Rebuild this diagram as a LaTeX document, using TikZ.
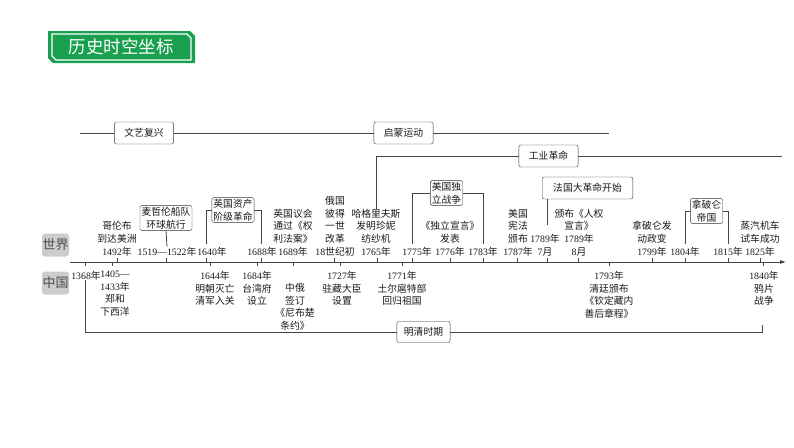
\documentclass[tikz,border=0pt]{standalone}
\usepackage{fontspec}
\setmainfont{Noto Sans CJK SC}
\newfontfamily\numfont{Liberation Serif}
\usetikzlibrary{arrows.meta}
\definecolor{titlegreen}{RGB}{24,160,78}
\definecolor{tabgray}{RGB}{204,204,204}
\definecolor{inkgray}{RGB}{70,70,70}
\newcommand{\yr}[1]{{\numfont #1}年}

\begin{document}
\begin{tikzpicture}[x=1pt,y=-1pt,
  every node/.style={font=\fontsize{9.8}{12.6}\selectfont,text=black!90},
  erabox/.style={draw=black!80,rounded corners=2pt,fill=white,minimum height=22pt,inner xsep=10pt},
  eventbox/.style={draw=black!80,rounded corners=1.5pt,fill=white,align=center,inner sep=1.5pt},
  worldnote/.style={align=center,anchor=south,inner sep=0pt},
  chinanote/.style={align=center,anchor=north,inner sep=0pt},
  areatab/.style={fill=tabgray,rounded corners=3pt,minimum width=27pt,minimum height=23pt,inner sep=0pt,font=\fontsize{13}{13}\selectfont,text=black!70},
  conn/.style={draw=inkgray,line width=0.8pt}]
  \useasboundingbox (0,0) rectangle (794,447);

  \fill[titlegreen] (48,31) -- (190,31) -- (195,36) -- (195,63) -- (53,63) -- (48,58) -- cycle;
  \draw[white,line width=1.2pt] (52,34) -- (187,34) -- (191,38) -- (191,60) -- (56,60) -- (52,56) -- cycle;
  \node[text=white,font=\fontsize{17.5}{17.5}\selectfont] (title) at (121,47) {历史时空坐标};

  \node[erabox] (renaissance) at (144,133) {文艺复兴};
  \node[erabox] (enlight) at (403.5,133) {启蒙运动};
  \coordinate (renStart) at (80,133);
  \coordinate (enlEnd) at (609,133);
  \draw[conn] (renStart) -- (renaissance) -- (enlight) -- (enlEnd);

  \node[areatab] (world) at (55.5,245) {世界};
  \node[areatab] (china) at (55.5,283) {中国};

  \coordinate (axisL) at (70,262);
  \coordinate (axisR) at (786,262);
  \draw[conn,-{Latex[length=6pt,width=4pt]}] (axisL) -- (axisR);
  \foreach \x in {117,166,206,261,334,377,412,450,483,517,547,578,652,685,728,760}
    \draw[conn] (\x,262) -- ++(0,-4);
  \foreach \x in {85,112,210,257,293,340,402,609,763}
    \draw[conn] (\x,262) -- ++(0,4);

  \node[worldnote] (w1492) at (117,256) {哥伦布\\到达美洲\\\yr{1492}};
  \node[worldnote] (w1519) at (167,256) {{\numfont 1519—1522}年};
  \node[worldnote] (w1640) at (212,256) {\yr{1640}};
  \node[worldnote] (w1688) at (262,256) {\yr{1688}};
  \node[worldnote] (w1689) at (293,256) {英国议会\\通过《权\\利法案》\\\yr{1689}};
  \node[worldnote] (w1700) at (335,256) {俄国\\彼得\\一世\\改革\\{\numfont 18}世纪初};
  \node[worldnote] (w1765) at (376,256) {哈格里夫斯\\发明珍妮\\纺纱机\\\yr{1765}};
  \node[worldnote] (w1775) at (417,256) {\yr{1775}};
  \node[worldnote] (w1776) at (450,256) {《独立宣言》\\发表\\\yr{1776}};
  \node[worldnote] (w1783) at (483,256) {\yr{1783}};
  \node[worldnote] (w1787) at (518,256) {美国\\宪法\\颁布\\\yr{1787}};
  \node[worldnote] (w17897) at (545,256) {\yr{1789}\\{\numfont 7}月};
  \node[worldnote] (w17898) at (579,256) {颁布《人权\\宣言》\\\yr{1789}\\{\numfont 8}月};
  \node[worldnote] (w1799) at (652,256) {拿破仑发\\动政变\\\yr{1799}};
  \node[worldnote] (w1804) at (685,256) {\yr{1804}};
  \node[worldnote] (w1815) at (728,256) {\yr{1815}};
  \node[worldnote] (w1825) at (760,256) {蒸汽机车\\试车成功\\\yr{1825}};

  \node[erabox] (industry) at (548.5,156) {工业革命};
  \coordinate (indEnd) at (782,156);
  \draw[conn] (w1765.north) |- (industry) -- (indEnd);

  \node[eventbox] (magellan) at (166,218) {麦哲伦船队\\环球航行};
  \draw[conn] (magellan.south) -- (w1519.north);

  \node[eventbox] (engrev) at (233,210) {英国资产\\阶级革命};
  \coordinate (b1640) at (206,244);
  \coordinate (b1688) at (261,244);
  \draw[conn] (b1640) |- (engrev.west);
  \draw[conn] (engrev.east) -| (b1688);

  \node[eventbox] (usind) at (446.5,193) {美国独\\立战争};
  \coordinate (b1775) at (412,244);
  \coordinate (b1783) at (483,244);
  \draw[conn] (b1775) |- (usind.west);
  \draw[conn] (usind.east) -| (b1783);

  \node[erabox,inner xsep=11pt] (france) at (587.5,188) {法国大革命开始};
  \coordinate (b1789) at (547,225);
  \draw[conn] (france.south -| b1789) -- (b1789);

  \node[eventbox] (napoleon) at (706.5,211) {拿破仑\\帝国};
  \coordinate (b1804) at (685,244);
  \coordinate (b1815) at (728,244);
  \draw[conn] (b1804) |- (napoleon.west);
  \draw[conn] (napoleon.east) -| (b1815);

  \node[chinanote] (c1368) at (86,271) {\yr{1368}};
  \node[chinanote] (c1405) at (115,271) {{\numfont 1405—}\\\yr{1433}\\郑和\\下西洋};
  \node[chinanote] (c1644) at (215,271) {\yr{1644}\\明朝灭亡\\清军入关};
  \node[chinanote] (c1684) at (257,271) {\yr{1684}\\台湾府\\设立};
  \node[chinanote] (c1689) at (295,283) {中俄\\签订\\《尼布楚\\条约》};
  \node[chinanote] (c1727) at (342,271) {\yr{1727}\\驻藏大臣\\设置};
  \node[chinanote] (c1771) at (402,271) {\yr{1771}\\土尔扈特部\\回归祖国};
  \node[chinanote] (c1793) at (609,271) {\yr{1793}\\清廷颁布\\《钦定藏内\\善后章程》};
  \node[chinanote] (c1840) at (764,271) {\yr{1840}\\鸦片\\战争};

  \node[erabox,minimum height=21pt,inner xsep=7pt] (mingqing) at (423.5,332) {明清时期};
  \coordinate (mqEnd) at (762,325);
  \draw[conn] (c1368.south -| 85,0) |- (mingqing.west);
  \draw[conn] (mingqing.east) -| (mqEnd);
\end{tikzpicture}
\end{document}
